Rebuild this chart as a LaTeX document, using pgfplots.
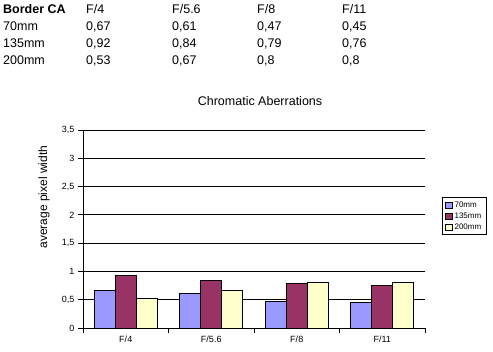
\documentclass[border=0pt]{standalone}
\usepackage{pgfplots}
\pgfplotsset{compat=1.18}
\usepackage{fontspec}
\setmainfont{Liberation Sans}
\definecolor{c70}{HTML}{9999FF}
\definecolor{c135}{HTML}{993366}
\definecolor{c200}{HTML}{FFFFCC}
\begin{document}
\begin{tikzpicture}
\path[use as bounding box] (0,0) rectangle (493bp,352bp);
% data table at top
\begin{scope}[every node/.style={anchor=base west, inner sep=0pt, font=\fontsize{12.5bp}{15bp}\selectfont}]
\node at (3bp,338bp) {\bfseries Border CA};
\node at (86bp,338bp) {F/4};
\node at (172bp,338bp) {F/5.6};
\node at (257bp,338bp) {F/8};
\node at (342bp,338bp) {F/11};
\node at (3bp,321bp) {70mm};
\node at (86bp,321bp) {0,67};
\node at (172bp,321bp) {0,61};
\node at (257bp,321bp) {0,47};
\node at (342bp,321bp) {0,45};
\node at (3bp,304bp) {135mm};
\node at (86bp,304bp) {0,92};
\node at (172bp,304bp) {0,84};
\node at (257bp,304bp) {0,79};
\node at (342bp,304bp) {0,76};
\node at (3bp,287bp) {200mm};
\node at (86bp,287bp) {0,53};
\node at (172bp,287bp) {0,67};
\node at (257bp,287bp) {0,8};
\node at (342bp,287bp) {0,8};
\end{scope}
\node[font=\fontsize{12.5bp}{15bp}\selectfont] at (260bp,251bp) {Chromatic Aberrations};
\node[font=\fontsize{12bp}{14bp}\selectfont, rotate=90] at (44bp,155bp) {average pixel width};
\begin{axis}[
  at={(83bp,24bp)}, anchor=south west,
  width=342bp, height=198bp, scale only axis,
  ybar=0pt, bar width=21bp,
  xmin=-0.5, xmax=3.5, ymin=0, ymax=3.5,
  axis lines*=left,
  tick pos=left, tick align=outside,
  xtick={-0.5,0.5,1.5,2.5,3.5}, xticklabels={},
  extra x ticks={0,1,2,3},
  extra x tick labels={F/4,F/5.6,F/8,F/11},
  extra x tick style={major tick length=0pt, grid=none},
  ytick={0,0.5,...,3.5},
  ymajorgrids,
  grid style={black, line width=1bp},
  axis line style={black, line width=1bp},
  tick style={black, line width=1bp},
  major tick length=5bp,
  tick label style={font=\fontsize{9bp}{10bp}\selectfont},
  /pgf/number format/use comma,
  /pgf/number format/assume math mode=true,
  yticklabel style={/pgf/number format/fixed, xshift=0bp},
  xticklabel style={yshift=-4bp},
  legend style={at={(1.0497,0.565)}, anchor=west, draw=black, line width=1bp,
    font=\fontsize{8bp}{9bp}\selectfont, inner xsep=3bp, inner ysep=2bp, row sep=0bp,
    /tikz/every even column/.append style={column sep=1bp}},
  legend image code/.code={\draw[#1, line width=0.7bp] (0bp,-3.2bp) rectangle (6.4bp,3.2bp);},
  legend cell align=left,
]
\addplot[fill=c70, draw=black, line width=1bp] coordinates {(0,0.67) (1,0.61) (2,0.47) (3,0.45)};
\addplot[fill=c135, draw=black, line width=1bp] coordinates {(0,0.92) (1,0.84) (2,0.79) (3,0.76)};
\addplot[fill=c200, draw=black, line width=1bp] coordinates {(0,0.53) (1,0.67) (2,0.8) (3,0.8)};
\legend{70mm,135mm,200mm}
\end{axis}
\end{tikzpicture}
\end{document}
